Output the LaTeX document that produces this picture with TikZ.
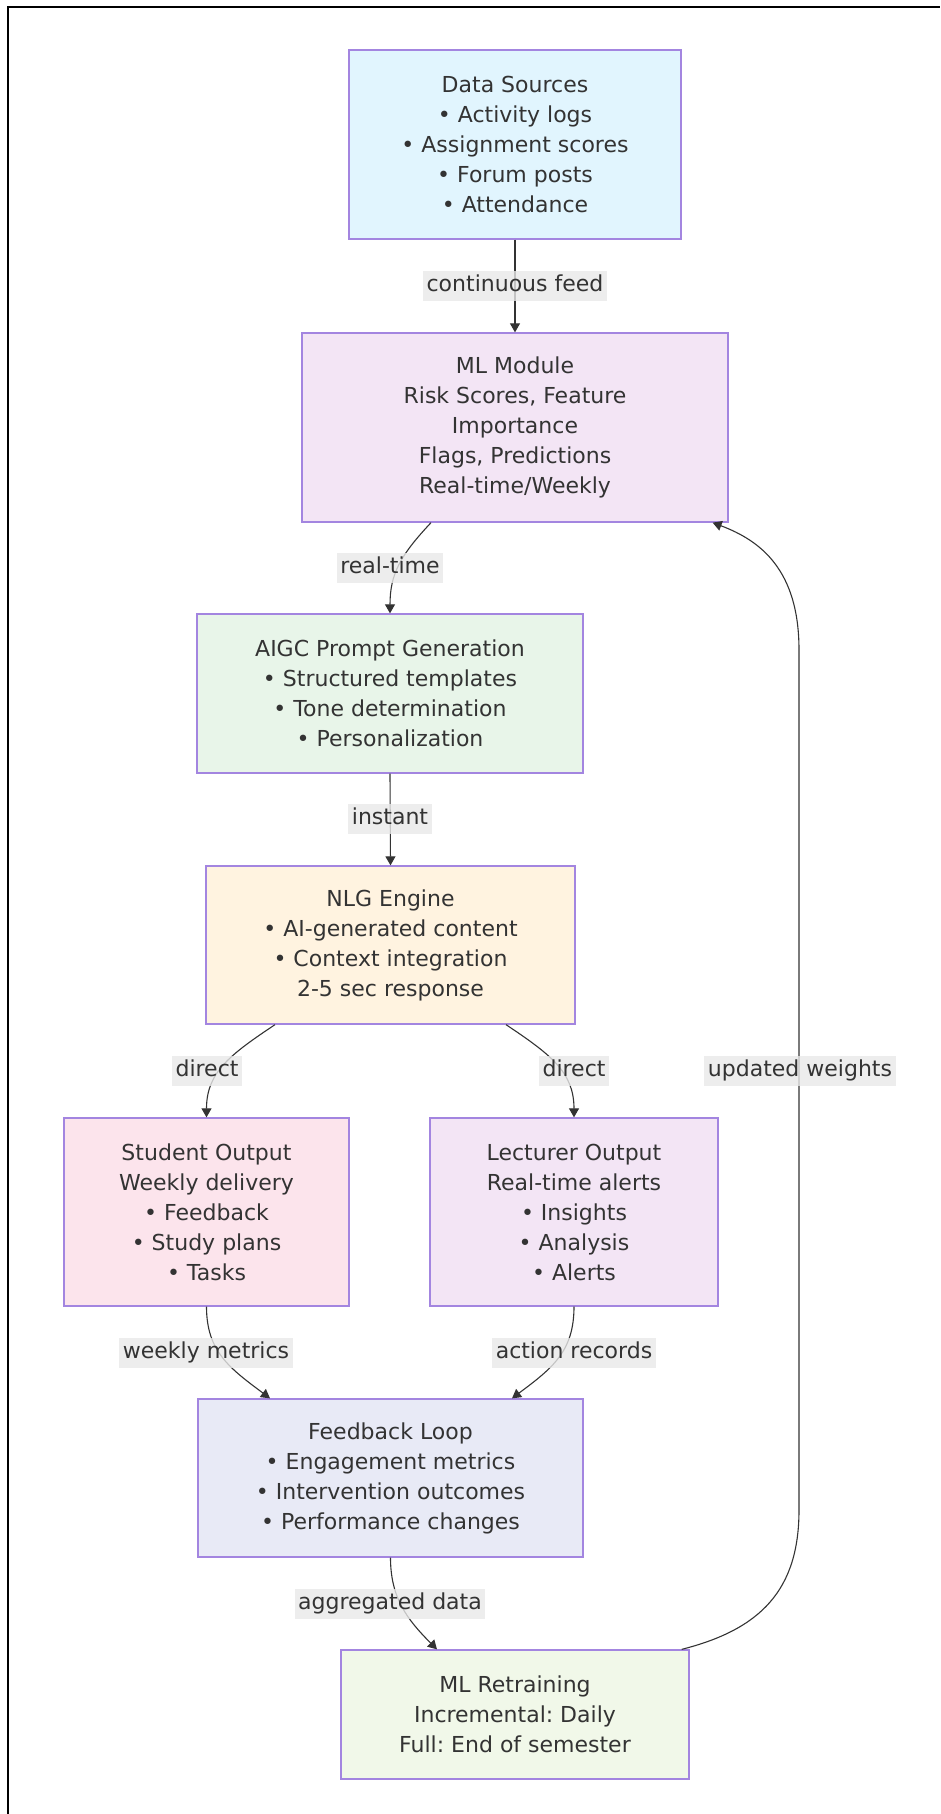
\documentclass[tikz,border=0pt]{standalone}
\usepackage{fontspec}
\setmainfont{DejaVu Sans}
\frenchspacing
\usetikzlibrary{arrows.meta}
\definecolor{edgecol}{HTML}{333333}
\definecolor{textcol}{HTML}{333333}
\definecolor{boxborder}{HTML}{9370DB}
\definecolor{labelbg}{HTML}{E8E8E8}
\definecolor{cds}{HTML}{E1F5FE}
\definecolor{cml}{HTML}{F3E5F5}
\definecolor{caigc}{HTML}{E8F5E9}
\definecolor{cnlg}{HTML}{FFF3E0}
\definecolor{cstu}{HTML}{FCE4EC}
\definecolor{clec}{HTML}{F3E5F5}
\definecolor{cfb}{HTML}{E8EAF6}
\definecolor{crt}{HTML}{F1F8E9}
\begin{document}
\begin{tikzpicture}[x=1pt,y=-1pt,
  box/.style={draw=boxborder!85, line width=1.3pt, align=center, inner sep=0pt,
    text=textcol, font=\fontsize{22}{30}\selectfont},
  elabel/.style={fill=labelbg, fill opacity=0.8, text opacity=1, text=textcol,
    inner xsep=3.5pt, inner ysep=0pt, minimum height=30pt, text height=16pt, text depth=5pt,
    font=\fontsize{22}{30}\selectfont},
  conn/.style={draw=edgecol, line width=1.1pt, -{Triangle[length=9pt,width=10pt]}}
]
\useasboundingbox (0,0) rectangle (940,1814);
% outer frame
\draw[line width=2.8pt, black] (8,1814) -- (8,7) -- (940,7);

% nodes
\node[box, fill=cds, minimum width=332pt, minimum height=189pt] (ds) at (515,144.5)
  {Data Sources\\• Activity logs\\• Assignment scores\\• Forum posts\\• Attendance};
\node[box, fill=cml, minimum width=426pt, minimum height=189pt] (ml) at (515,427.5)
  {ML Module\\Risk Scores, Feature\\Importance\\Flags, Predictions\\Real-time/Weekly};
\node[box, fill=caigc, minimum width=386pt, minimum height=159pt] (aigc) at (390,693.5)
  {AIGC Prompt Generation\\• Structured templates\\• Tone determination\\• Personalization};
\node[box, fill=cnlg, minimum width=369pt, minimum height=158pt] (nlg) at (390.5,945)
  {NLG Engine\\• AI-generated content\\• Context integration\\2-5 sec response};
\node[box, fill=cstu, minimum width=285pt, minimum height=188pt] (stu) at (206.5,1212)
  {Student Output\\Weekly delivery\\• Feedback\\• Study plans\\• Tasks};
\node[box, fill=clec, minimum width=288pt, minimum height=188pt] (lec) at (574,1212)
  {Lecturer Output\\Real-time alerts\\• Insights\\• Analysis\\• Alerts};
\node[box, fill=cfb, minimum width=385pt, minimum height=158pt] (fb) at (390.5,1478)
  {Feedback Loop\\• Engagement metrics\\• Intervention outcomes\\• Performance changes};
\node[box, fill=crt, minimum width=348pt, minimum height=129pt] (rt) at (515,1714.5)
  {ML Retraining\\Incremental: Daily\\Full: End of semester};

\coordinate (uwb) at (799,1510);
\coordinate (uwt) at (799,650);

% connectors
\draw[conn] (ds.south) -- (ml.north);
\draw[conn] ([xshift=-84pt]ml.south) .. controls +(-31,33) and +(0,-39) .. (aigc.north);
\draw[conn] (aigc.south) -- (nlg.north);
\draw[conn] ([xshift=-115.5pt]nlg.south) .. controls +(-45,30) and +(0,-45) .. (stu.north);
\draw[conn] ([xshift=115.5pt]nlg.south) .. controls +(45,30) and +(0,-45) .. (lec.north);
\draw[conn] (stu.south) .. controls +(0,45) and +(-40,-30) .. ([xshift=-120.5pt]fb.north);
\draw[conn] (lec.south) .. controls +(0,45) and +(40,-30) .. ([xshift=121.5pt]fb.north);
\draw[conn] (fb.south) .. controls +(0,40) and +(-30,-30) .. ([xshift=-78pt]rt.north);
\draw[conn] ([xshift=-8pt]rt.north east) .. controls +(79,-20) and +(0,80) .. (uwb)
  -- (uwt) .. controls +(0,-80) and +(48,18) .. ([xshift=-16pt]ml.south east);

% edge labels
\node[elabel] (l1) at (515,286) {continuous feed};
\node[elabel] (l2) at (390,568) {real-time};
\node[elabel] (l3) at (390,819) {instant};
\node[elabel] (l4) at (207,1071) {direct};
\node[elabel] (l5) at (574,1071) {direct};
\node[elabel] (l6) at (206,1353) {weekly metrics};
\node[elabel] (l7) at (574,1353) {action records};
\node[elabel] (l8) at (390,1604) {aggregated data};
\node[elabel] (l9) at (800,1071) {updated weights};
\end{tikzpicture}
\end{document}
